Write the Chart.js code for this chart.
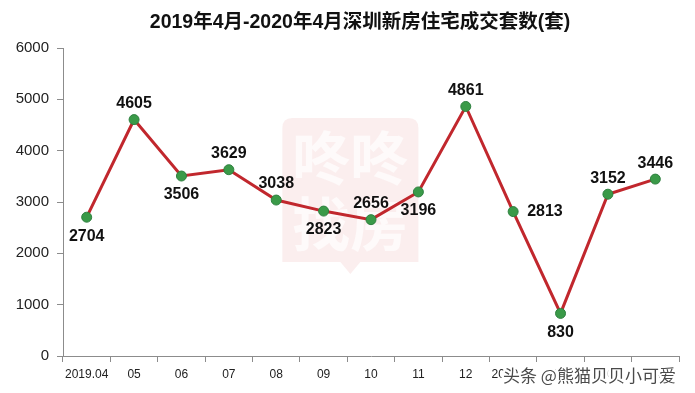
<!DOCTYPE html>
<html>
<head>
<meta charset="utf-8">
<script src="https://cdn.jsdelivr.net/npm/chart.js@4"></script>
<style>
  html, body { margin: 0; padding: 0; background: #fff; }
  #wrap { width: 695px; height: 393px; position: relative; }
</style>
</head>
<body>
<div id="wrap"><canvas id="c" width="695" height="393"></canvas></div>
<script>
// ---- data ----
const titleText = '2019年4月-2020年4月深圳新房住宅成交套数(套)';
const categories = ['2019.04', '05', '06', '07', '08', '09', '10', '11', '12', '2020.01', '02', '03', '04'];
const values = [2704, 4605, 3506, 3629, 3038, 2823, 2656, 3196, 4861, 2813, 830, 3152, 3446];
const yTicks = [0, 1000, 2000, 3000, 4000, 5000, 6000];
const labelPlacement = ['below', 'above', 'below', 'above', 'above', 'below', 'above', 'below', 'above', 'right', 'below', 'above', 'above'];
const watermarkText = '头条 @熊猫贝贝小可爱';

const FONT = '"Liberation Sans", "Noto Sans CJK SC", Arial, sans-serif';

const bgLogo = {
  id: 'bgLogo',
  beforeDatasetsDraw(chart) {
    const ctx = chart.ctx;
    const a = chart.chartArea;
    const cx = a.left + (a.right - a.left) * 0.4665;
    const x0 = cx - 68, x1 = cx + 68, y0 = 118, y1 = 262;
    ctx.save();
    ctx.fillStyle = 'rgba(226, 120, 120, 0.13)';
    ctx.beginPath();
    const r = 10;
    ctx.moveTo(x0 + r, y0);
    ctx.lineTo(x1 - r, y0); ctx.quadraticCurveTo(x1, y0, x1, y0 + r);
    ctx.lineTo(x1, y1);
    ctx.lineTo(cx + 10, y1); ctx.lineTo(cx, y1 + 12); ctx.lineTo(cx - 10, y1);
    ctx.lineTo(x0, y1);
    ctx.lineTo(x0, y0 + r); ctx.quadraticCurveTo(x0, y0, x0 + r, y0);
    ctx.closePath();
    ctx.fill();
    ctx.fillStyle = 'rgba(255,255,255,0.7)';
    ctx.font = 'bold 58px "Noto Sans CJK SC", sans-serif';
    ctx.textAlign = 'center';
    ctx.textBaseline = 'middle';
    ctx.fillText('咚咚', cx, 158);
    ctx.fillText('找房', cx, 224);
    ctx.restore();
  }
};

const decor = {
  id: 'decor',
  afterDraw(chart) {
    const ctx = chart.ctx;
    ctx.save();
    // title
    ctx.font = 'bold 19.5px ' + FONT;
    ctx.fillStyle = '#111';
    ctx.textAlign = 'center';
    ctx.textBaseline = 'middle';
    ctx.fillText(titleText, 360, 23);

    // data labels
    const meta = chart.getDatasetMeta(0);
    ctx.font = 'bold 16px ' + FONT;
    ctx.fillStyle = '#111';
    meta.data.forEach((pt, i) => {
      const p = labelPlacement[i];
      let x = pt.x, y = pt.y;
      ctx.textAlign = 'center';
      if (p === 'above') { y -= 16; }
      else if (p === 'below') { y += 19; }
      else if (p === 'right') { x += 14; ctx.textAlign = 'left'; }
      ctx.fillText(String(values[i]), x, y);
    });

    // bottom watermark
    ctx.font = '17px "Noto Sans CJK SC", sans-serif';
    ctx.textAlign = 'left';
    ctx.textBaseline = 'middle';
    ctx.lineWidth = 5;
    ctx.strokeStyle = '#fff';
    ctx.lineJoin = 'round';
    ctx.strokeText(watermarkText, 503, 376);
    ctx.fillStyle = '#4a4a4a';
    ctx.fillText(watermarkText, 503, 376);
    ctx.restore();
  }
};

new Chart(document.getElementById('c'), {
  type: 'line',
  data: {
    labels: categories,
    datasets: [{
      data: values,
      borderColor: '#c1272d',
      borderWidth: 3,
      tension: 0,
      pointRadius: 5,
      pointHoverRadius: 5,
      pointBackgroundColor: '#3a9a48',
      pointBorderColor: '#2f8040',
      pointBorderWidth: 1
    }]
  },
  options: {
    responsive: false,
    animation: false,
    events: [],
    layout: { padding: { top: 48, right: 16, left: 0, bottom: 0 } },
    plugins: {
      legend: { display: false },
      title: { display: false },
      tooltip: { enabled: false }
    },
    scales: {
      x: {
        type: 'category',
        offset: true,
        grid: { display: true, drawOnChartArea: false, drawTicks: true, tickLength: 6, color: '#8c8c8c', offset: true },
        border: { display: true, color: '#8c8c8c', width: 1 },
        ticks: { font: { family: FONT, size: 12 }, color: '#222', padding: 5, maxRotation: 0, autoSkip: false },
        afterFit(s) { s.height = 37; }
      },
      y: {
        min: 0,
        max: 6000,
        afterBuildTicks(s) { s.ticks = yTicks.map(v => ({ value: v })); },
        grid: { display: true, drawOnChartArea: false, drawTicks: true, tickLength: 6, color: '#8c8c8c' },
        border: { display: true, color: '#8c8c8c', width: 1 },
        ticks: { font: { family: FONT, size: 15 }, color: '#222', padding: 8, callback: (v) => String(v) },
        afterFit(s) { s.width = 63; }
      }
    }
  },
  plugins: [bgLogo, decor]
});
</script>
</body>
</html>
